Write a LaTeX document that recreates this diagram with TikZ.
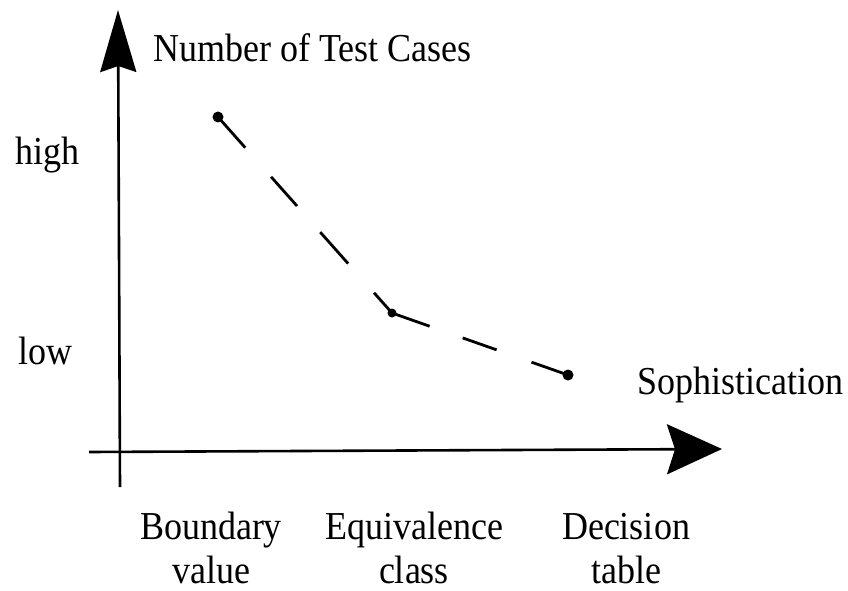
\documentclass[tikz,border=0pt]{standalone}
\usepackage{fontspec}
\usepackage{graphicx}
\setmainfont{Liberation Serif}
\usetikzlibrary{arrows.meta}
\newcommand{\vstr}[1]{\scalebox{1}[1.1]{#1}}
\begin{document}
\begin{tikzpicture}[x=1pt,y=-1pt,
  lbl/.style={inner sep=0pt,font=\fontsize{36}{44}\selectfont,align=center},
  axis/.style={line width=2.6pt},
  dot/.style={circle,fill=black,inner sep=0pt,minimum size=11pt}]
\useasboundingbox (0,0) rectangle (848,591);
% axes
\coordinate (ybot) at (120,487);
\coordinate (ytop) at (118,10);
\coordinate (xleft) at (89,452);
\coordinate (xright) at (722,449);
\draw[axis,-{Stealth[length=62pt,width=36pt,inset=6pt]}] (ybot) -- (ytop);
\draw[axis,-{Stealth[length=55pt,width=50pt,inset=8pt]}] (xleft) -- (xright);
% curve
\node[dot] (p1) at (218,117) {};
\node[dot,minimum size=9pt] (p2) at (392,313) {};
\node[dot] (p3) at (568,375) {};
\draw[line width=2.8pt,dash pattern=on 41pt off 39pt on 39pt off 35pt on 42pt off 39pt on 67pt off 35pt on 36pt off 37pt on 39pt off 100pt]
  (p1.center) -- (p2.center) -- (p3.center);
% labels
\node[lbl,anchor=base west] (ylab) at (153,62) {\vstr{Number of Test Cases}};
\node[lbl,anchor=base west] (high) at (15,164) {\vstr{high}};
\node[lbl,anchor=base west] (low) at (18,364) {\vstr{low}};
\node[lbl,anchor=base west] (xlab) at (637,394) {\vstr{Sophistication}};
\node[lbl,anchor=base] (bv) at (211,583) {\vstr{Boundary}\\\vstr{value}};
\node[lbl,anchor=base] (ec) at (414,583) {\vstr{Equivalence}\\\vstr{class}};
\node[lbl,anchor=base] (dt) at (626,583) {\vstr{Decision}\\\vstr{table}};
\end{tikzpicture}
\end{document}
